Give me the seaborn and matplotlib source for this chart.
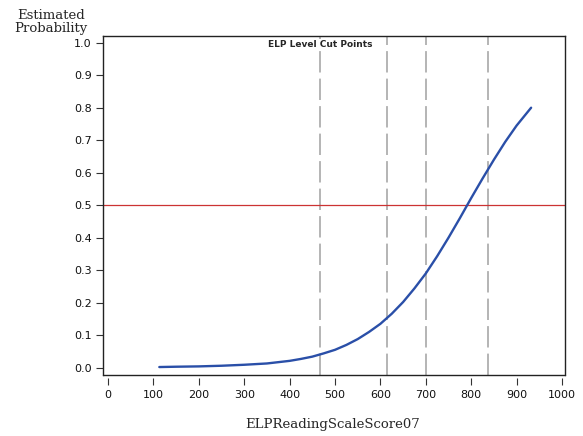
import numpy as np
import pandas as pd
import matplotlib
matplotlib.use('Agg')
import matplotlib.pyplot as plt
import seaborn as sns

# Values
score = [113, 150, 200, 250, 300, 350, 375, 400, 425, 450, 475, 500, 525, 550, 575,
         600, 625, 650, 675, 700, 725, 750, 775, 800, 825, 850, 875, 900, 932]
prob = [0.002, 0.003, 0.004, 0.006, 0.009, 0.013, 0.017, 0.021, 0.027, 0.034, 0.044,
        0.055, 0.070, 0.088, 0.110, 0.135, 0.166, 0.202, 0.244, 0.290, 0.343, 0.400,
        0.460, 0.522, 0.582, 0.640, 0.695, 0.745, 0.800]
cut_points = [468, 615, 700, 836]
x_ticks = list(range(0, 1001, 100))
y_ticks = [round(v * 0.1, 1) for v in range(11)]

df = pd.DataFrame({'score': score, 'prob': prob})

sns.set_style('white')
plt.rcParams['font.family'] = ['DejaVu Sans']

fig = plt.figure(figsize=(5.83, 4.36), dpi=100)
ax = fig.add_axes([0.1767, 0.1399, 0.7924, 0.7775])

ymin, ymax = -0.0225, 1.0206
for cp in cut_points:
    ax.plot([cp, cp], [ymin, ymax], color='#a0a0a0', lw=1.1, dashes=(14, 4))

ax.axhline(0.5, color='#cc3333', lw=0.9)

sns.lineplot(data=df, x='score', y='prob', color='#2a4fa8', lw=1.7, ax=ax)

ax.text(cut_points[0], 0.996, 'ELP Level Cut Points', ha='center', va='center',
        fontsize=6.5, fontweight='bold',
        bbox=dict(facecolor='white', edgecolor='none', pad=0.5))

ax.set_xlim(-11, 1006.6)
ax.set_ylim(ymin, ymax)
ax.set_xticks(x_ticks)
ax.set_yticks(y_ticks)
ax.set_yticklabels([f'{v:.1f}' for v in y_ticks])
ax.set_xlabel('')
ax.set_ylabel('')

# x tick marks sit a little below the frame
ax.spines['bottom'].set_position(('outward', 2))
ax.spines['bottom'].set_visible(False)
ax.plot([-11, 1006.6], [ymin, ymin], color='#222222', lw=1.0, clip_on=False)
for s in ['left', 'right', 'top']:
    ax.spines[s].set_color('#222222')
    ax.spines[s].set_linewidth(1.0)
    ax.spines[s].set_zorder(5)

ax.tick_params(axis='both', direction='out', length=5, width=0.8, color='#333333',
               labelsize=8, labelcolor='#111111', pad=3)
ax.tick_params(axis='x', bottom=True, pad=4)
ax.tick_params(axis='y', left=True)

fig.text(0.088, 0.950, 'Estimated\nProbability', ha='center', va='center',
         fontsize=9.5, family='DejaVu Serif', linespacing=0.95)
fig.text(0.571, 0.027, 'ELPReadingScaleScore07', ha='center', va='center',
         fontsize=9.5, family='DejaVu Serif')

fig.savefig('out.png', dpi=100)
